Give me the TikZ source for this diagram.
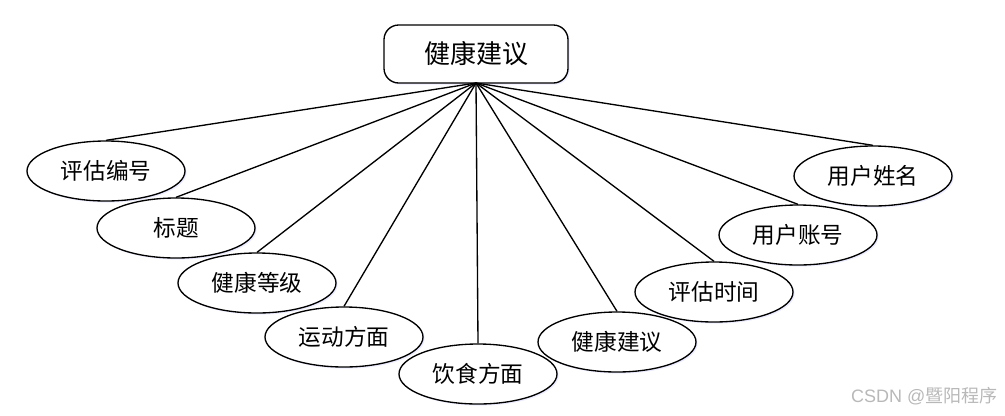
\documentclass[tikz,border=0pt]{standalone}
\usepackage{fontspec}
\setmainfont{Liberation Sans}
\newfontfamily\cjk{Noto Sans CJK SC}
\usetikzlibrary{shapes.geometric,shadows}
\tikzset{
  attr/.style={ellipse, draw=black, line width=1pt, fill=white,
    minimum width=118.5pt, minimum height=45pt, inner sep=0pt,
    font=\cjk\fontsize{17}{17}\selectfont,
    drop shadow={shadow xshift=1.2pt, shadow yshift=-1.2pt, fill=blue!15, opacity=0.5}},
  entity/.style={rectangle, rounded corners=11pt, draw=black, line width=1pt, fill=white,
    minimum width=138pt, minimum height=43.5pt, inner sep=0pt,
    font=\cjk\fontsize{19.5}{19.5}\selectfont,
    drop shadow={shadow xshift=1.2pt, shadow yshift=-1.2pt, fill=blue!15, opacity=0.5}},
  link/.style={draw=black, line width=1pt}
}
\begin{document}
\begin{tikzpicture}[x=0.75pt, y=-0.75pt]
\useasboundingbox (0,0) rectangle (1005,415);
\node[entity] (e) at (476,54) {健康建议};
\coordinate (hub) at (476,83);
\node[attr] (a1) at (106,171) {评估编号};
\node[attr] (a2) at (176,228) {标题};
\node[attr] (a3) at (257,283) {健康等级};
\node[attr] (a4) at (344,337) {运动方面};
\node[attr] (a5) at (478,374) {饮食方面};
\node[attr] (a6) at (617,342) {健康建议};
\node[attr] (a7) at (714,292) {评估时间};
\node[attr] (a8) at (798,235) {用户账号};
\node[attr] (a9) at (873,176) {用户姓名};
\foreach \n in {a1,a2,a3,a4,a5,a6,a7,a8,a9}{
  \draw[link] (hub) -- (\n.north);
}
\node[anchor=east, text=black!28, font=\fontsize{13.5}{13.5}\selectfont] (wm) at (1002,396) {CSDN @{\cjk 暨阳程序}};
\end{tikzpicture}
\end{document}
